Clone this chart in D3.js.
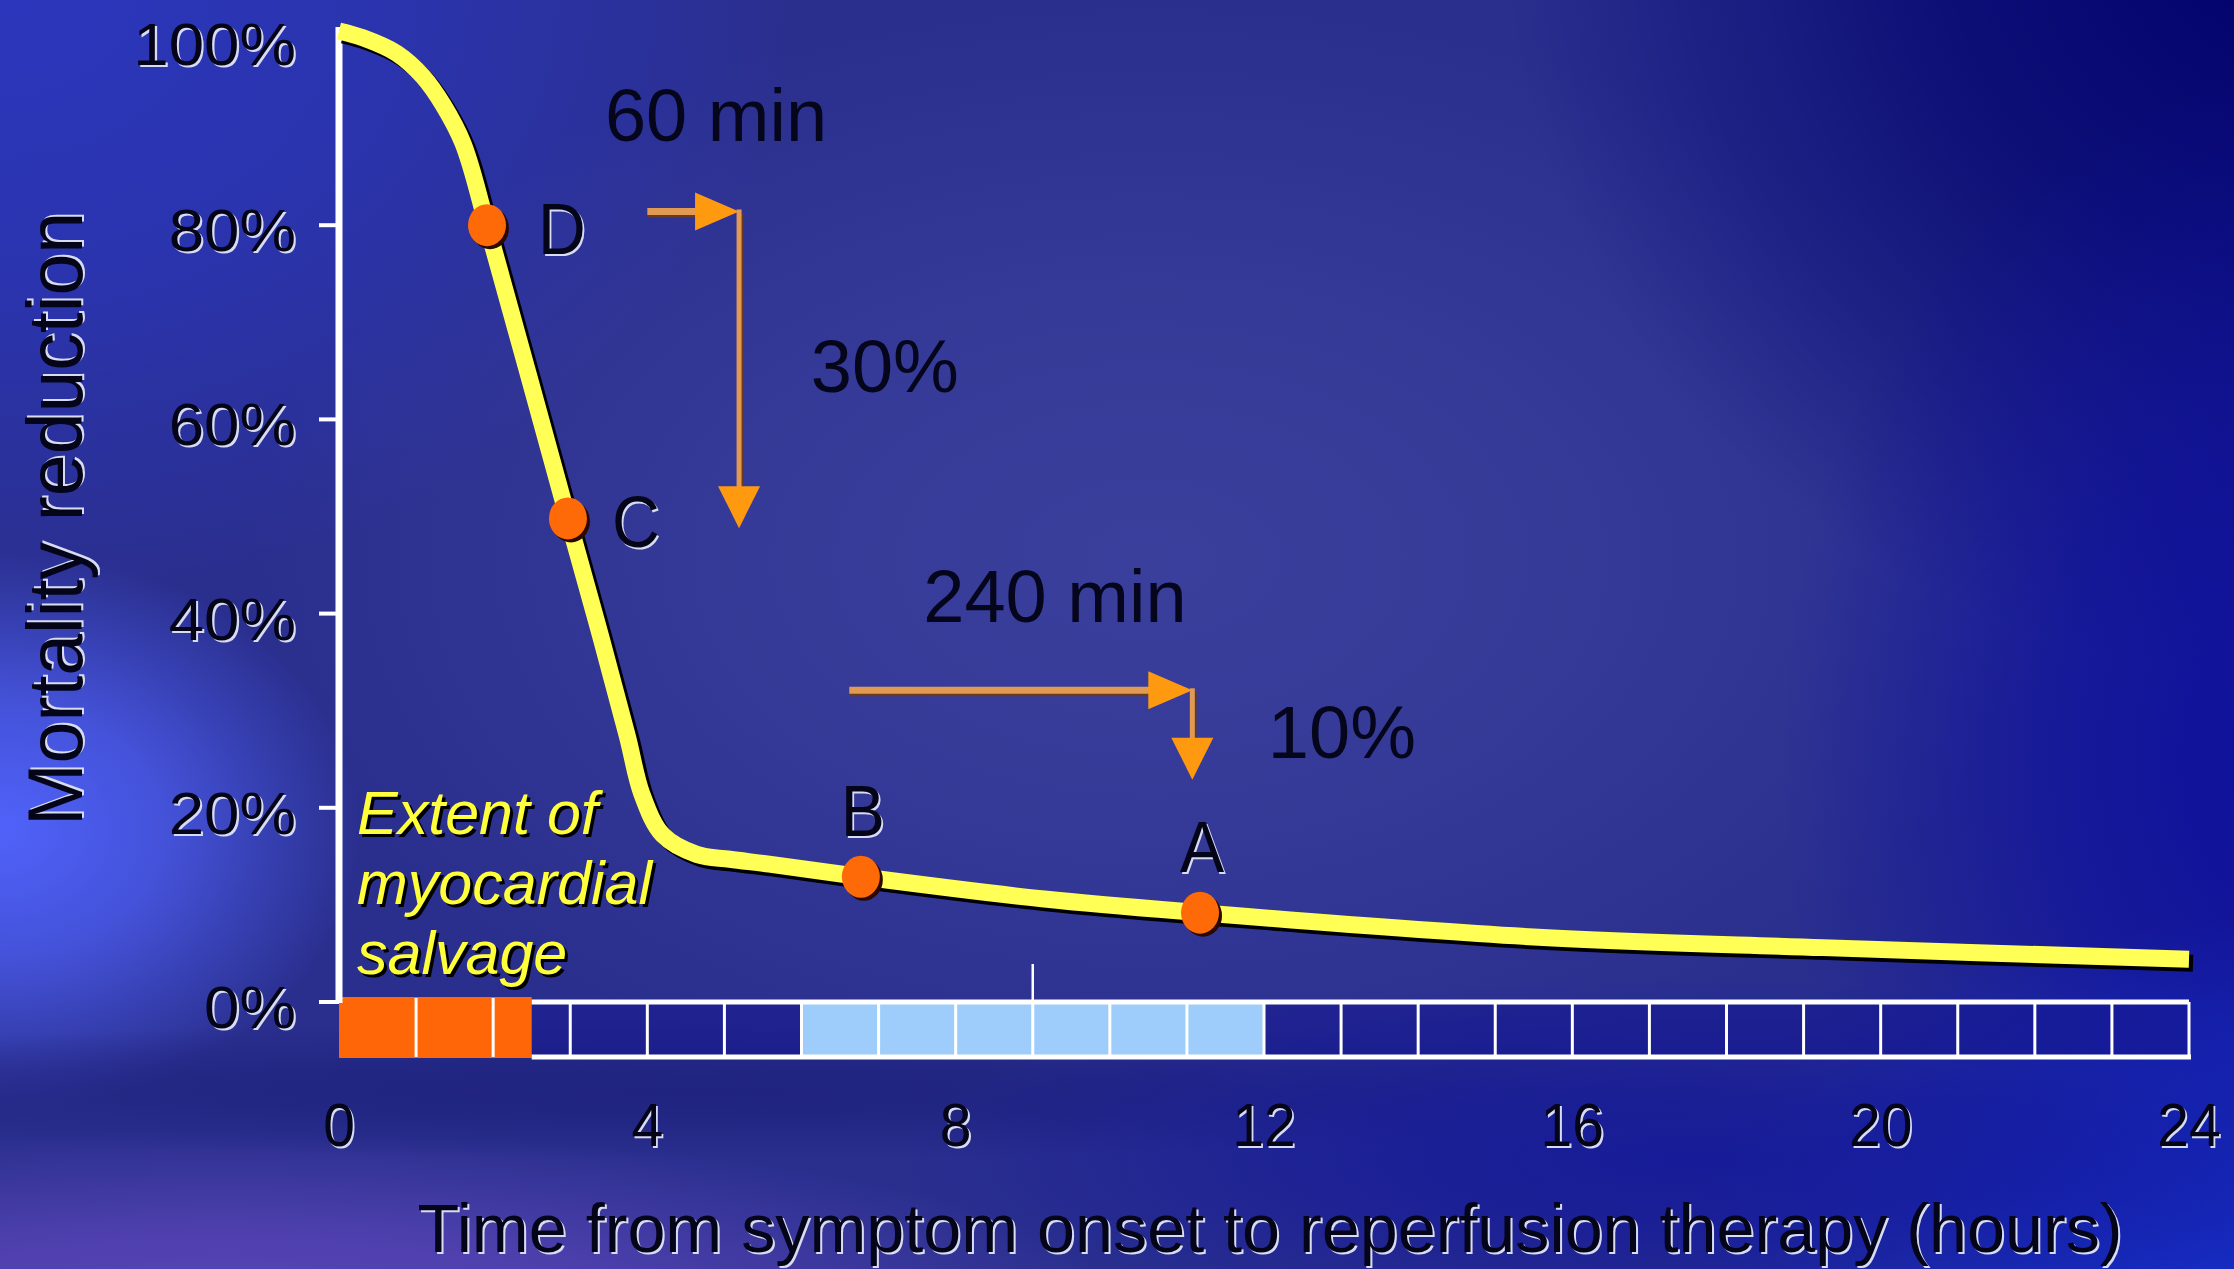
<!DOCTYPE html>
<html>
<head>
<meta charset="utf-8">
<script src="https://cdn.jsdelivr.net/npm/d3@7"></script>
<style>
  html, body { margin: 0; padding: 0; background: #2b3190; overflow: hidden; }
  svg { display: block; }
  text { font-family: "Liberation Sans", Arial, sans-serif; }
</style>
</head>
<body>
<svg id="chart" width="2234" height="1269"></svg>
<script>
// ---------------- data ----------------
const curveHours = [0, 0.31, 0.75, 1.09, 1.35, 1.61, 1.92, 2.97, 3.41, 3.74, 3.93, 4.2, 4.64, 5.07, 5.58, 6.77, 9.15, 11.17, 15.5, 19.25, 24];
const curveReduction = [100, 99.3, 97.7, 95.3, 92.4, 88.4, 80, 49.8, 37.2, 27.4, 21.4, 17.2, 15.2, 14.7, 14.2, 12.9, 10.6, 9.2, 6.7, 5.6, 4.4];

const pointLabels = ["D", "C", "B", "A"];
const pointHours = [1.92, 2.97, 6.77, 11.17];
const pointReduction = [80, 49.8, 12.9, 9.2];

const yTickValues = [0, 20, 40, 60, 80, 100];
const yTickLabels = ["0%", "20%", "40%", "60%", "80%", "100%"];
const xTickValues = [0, 4, 8, 12, 16, 20, 24];
const xTickLabels = ["0", "4", "8", "12", "16", "20", "24"];

const cellEdges = [0, 1, 2, 3, 4, 5, 6, 7, 8, 9, 10, 11, 12, 13, 14, 15, 16, 17, 18, 19, 20, 21, 22, 23, 24];
const salvageFrom = [0, 6];
const salvageTo = [2.5, 12];
const salvageKind = ["high", "low"];
const extraTickHour = [9];

// elbow arrows: horizontal delay, then vertical loss
const arrowStartHour = [4.0, 6.62];
const arrowEndHour = [5.19, 11.07];
const arrowFromValue = [81.4, 32.1];
const arrowToValue = [48.8, 22.9];
const delayLabels = ["60 min", "240 min"];
const delayLabelHour = [3.45, 7.58];
const delayLabelValue = [88.7, 39.1];
const lossLabels = ["30%", "10%"];
const lossLabelHour = [6.12, 12.05];
const lossLabelValue = [62.8, 25.1];

const salvageText = ["Extent of", "myocardial", "salvage"];
const xTitle = "Time from symptom onset to reperfusion therapy (hours)";
const yTitle = "Mortality reduction";

// ---------------- drawing ----------------
const W = 2234, H = 1269;
const svg = d3.select("#chart");
const defs = svg.append("defs");

const x = d3.scaleLinear().domain([0, 24]).range([339, 2189]);
const y = d3.scaleLinear().domain([0, 100]).range([1002, 31]);

// background: base + soft radial glows
const bg = svg.append("g");
bg.append("rect").attr("width", W).attr("height", H).attr("fill", "#2a2f8e");
const blobs = [
  {cx: 0, cy: 0, rx: 800, ry: 600, c: "#2b37c2", o: 0.9},
  {cx: 1150, cy: 560, rx: 900, ry: 560, c: "#3c419e", o: 0.9},
  {cx: 2300, cy: -80, rx: 800, ry: 760, c: "#00006c", o: 1},
  {cx: 2300, cy: 760, rx: 520, ry: 700, c: "#0a0c9e", o: 0.9},
  {cx: 2260, cy: 1300, rx: 600, ry: 380, c: "#1430d0", o: 0.9},
  {cx: 0, cy: 830, rx: 360, ry: 280, c: "#5062fa", o: 1},
  {cx: 220, cy: 1300, rx: 900, ry: 170, c: "#5a46b8", o: 1},
  {cx: 700, cy: 1090, rx: 1100, ry: 70, c: "#1d207c", o: 0.8},
  {cx: 1700, cy: 1160, rx: 800, ry: 180, c: "#12169a", o: 0.8}
];
blobs.forEach((b, i) => {
  const g = defs.append("radialGradient").attr("id", "rg" + i);
  g.append("stop").attr("offset", 0).attr("stop-color", b.c).attr("stop-opacity", b.o);
  g.append("stop").attr("offset", 0.45).attr("stop-color", b.c).attr("stop-opacity", b.o * 0.7);
  g.append("stop").attr("offset", 1).attr("stop-color", b.c).attr("stop-opacity", 0);
});
bg.selectAll("ellipse").data(blobs).join("ellipse")
  .attr("cx", d => d.cx).attr("cy", d => d.cy)
  .attr("rx", d => d.rx).attr("ry", d => d.ry)
  .attr("fill", (d, i) => `url(#rg${i})`);

// embossed text helper
function label(g, px, py, s, o) {
  const sx = o.sx || 1;
  const grp = g.append("g").attr("transform", `translate(${px},${py}) scale(${sx},1)`);
  if (o.shadow) {
    grp.append("text").attr("x", o.sdx || 2).attr("y", o.sdy || 2)
      .attr("text-anchor", o.anchor || "start")
      .attr("font-size", o.size).attr("font-style", o.italic ? "italic" : null)
      .attr("fill", o.shadow).text(s);
  }
  grp.append("text").attr("x", 0).attr("y", 0)
    .attr("text-anchor", o.anchor || "start")
    .attr("font-size", o.size).attr("font-style", o.italic ? "italic" : null)
    .attr("fill", o.fill).text(s);
  return grp;
}

// strip of hourly cells
const strip = svg.append("g");
const stripTop = y(0), stripBottom = y(0) + 55;
const cells = cellEdges.slice(0, -1);
strip.selectAll("rect.cell").data(cells).join("rect").attr("class", "cell")
  .attr("x", d => x(d)).attr("y", stripTop)
  .attr("width", d => x(d + 1) - x(d)).attr("height", stripBottom - stripTop)
  .attr("fill", "#151890").attr("fill-opacity", 0.55);
salvageFrom.forEach((f, i) => {
  strip.append("rect")
    .attr("x", x(f)).attr("width", x(salvageTo[i]) - x(f))
    .attr("y", salvageKind[i] === "high" ? stripTop - 5 : stripTop)
    .attr("height", salvageKind[i] === "high" ? stripBottom - stripTop + 6 : stripBottom - stripTop)
    .attr("fill", salvageKind[i] === "high" ? "#ff6608" : "#9fcdfb");
});
strip.append("line").attr("x1", x(salvageTo[0])).attr("x2", x(24))
  .attr("y1", stripTop).attr("y2", stripTop).attr("stroke", "#fff").attr("stroke-width", 5);
strip.append("line").attr("x1", x(salvageTo[0])).attr("x2", x(24) + 2)
  .attr("y1", stripBottom).attr("y2", stripBottom).attr("stroke", "#fff").attr("stroke-width", 5);
strip.selectAll("line.div").data(cellEdges.slice(1)).join("line").attr("class", "div")
  .attr("x1", d => x(d)).attr("x2", d => x(d))
  .attr("y1", d => d <= 2.5 ? stripTop - 4 : stripTop)
  .attr("y2", stripBottom)
  .attr("stroke", "#fff").attr("stroke-width", 3);
strip.selectAll("line.extra").data(extraTickHour).join("line").attr("class", "extra")
  .attr("x1", d => x(d)).attr("x2", d => x(d))
  .attr("y1", stripTop - 38).attr("y2", stripTop)
  .attr("stroke", "#fff").attr("stroke-width", 2.5);

// y axis
const ax = svg.append("g");
ax.append("line").attr("x1", x(0)).attr("x2", x(0))
  .attr("y1", y(100) - 4).attr("y2", stripTop + 1)
  .attr("stroke", "#fff").attr("stroke-width", 7);
ax.selectAll("line.tick").data(yTickValues.filter(v => v < 100)).join("line").attr("class", "tick")
  .attr("x1", x(0) - 20).attr("x2", x(0))
  .attr("y1", d => y(d)).attr("y2", d => y(d))
  .attr("stroke", "#fff").attr("stroke-width", 4);
yTickValues.forEach((v, i) => {
  label(ax, 296, y(v) + (v === 100 ? 34 : 26), yTickLabels[i],
    {size: 60, sx: 1.06, anchor: "end", fill: "#05051a", shadow: "#d8dcf2"});
});
xTickValues.forEach((v, i) => {
  label(ax, x(v), 1146, xTickLabels[i],
    {size: 62, sx: 0.92, anchor: "middle", fill: "#05051a", shadow: "#d8dcf2"});
});
// axis titles
const xt = label(ax, 1270, 1252, xTitle, {size: 68, anchor: "middle", fill: "#05051a", shadow: "#d8dcf2"});
xt.selectAll("text").attr("textLength", 1705).attr("lengthAdjust", "spacingAndGlyphs");
const ytg = ax.append("g").attr("transform", "translate(82,519) rotate(-90)");
ytg.append("text").attr("x", 2).attr("y", 2).attr("text-anchor", "middle").attr("font-size", 78)
  .attr("fill", "#d8dcf2").attr("textLength", 614).attr("lengthAdjust", "spacingAndGlyphs").text(yTitle);
ytg.append("text").attr("x", 0).attr("y", 0).attr("text-anchor", "middle").attr("font-size", 78)
  .attr("fill", "#05051a").attr("textLength", 614).attr("lengthAdjust", "spacingAndGlyphs").text(yTitle);

// salvage text
salvageText.forEach((s, i) => {
  label(svg, 357, 834 + i * 70, s, {size: 61, italic: true, fill: "#ffff3a", shadow: "#000", sdx: 3, sdy: 3});
});

// curve
const curveData = curveHours.map((h, i) => [h, curveReduction[i]]);
const line = d3.line().x(d => x(d[0])).y(d => y(d[1])).curve(d3.curveCatmullRom.alpha(0.5));
svg.append("path").attr("d", line(curveData)).attr("fill", "none")
  .attr("stroke", "#000").attr("stroke-width", 17).attr("transform", "translate(4,4)");
svg.append("path").attr("d", line(curveData)).attr("fill", "none")
  .attr("stroke", "#ffff55").attr("stroke-width", 17);

// points
const pts = svg.append("g");
pointHours.forEach((h, i) => {
  pts.append("ellipse").attr("cx", x(h) + 3).attr("cy", y(pointReduction[i]) + 3)
    .attr("rx", 19).attr("ry", 21).attr("fill", "#2a0a00");
  pts.append("ellipse").attr("cx", x(h)).attr("cy", y(pointReduction[i]))
    .attr("rx", 19).attr("ry", 21).attr("fill", "#ff6a08");
  const above = pointReduction[i] < 20;
  label(pts, above ? x(h) + 2 : x(h) + (i === 0 ? 51 : 44),
    above ? y(pointReduction[i]) - 41 : y(pointReduction[i]) + 29,
    pointLabels[i], {size: 72, sx: 0.92, anchor: above ? "middle" : "start", fill: "#05051a", shadow: "#d8dcf2"});
});

// arrows
const arr = svg.append("g");
const lineCol = "#e19a52", headCol = "#ff9a10";
arrowStartHour.forEach((h, i) => {
  const x0 = x(h), x1 = x(arrowEndHour[i]);
  const y0 = y(arrowFromValue[i]), y1 = y(arrowToValue[i]);
  arr.append("line").attr("x1", x0).attr("x2", x1 - 40).attr("y1", y0 + 4).attr("y2", y0 + 4)
    .attr("stroke", "#6a3a20").attr("stroke-width", 4);
  arr.append("line").attr("x1", x0).attr("x2", x1 - 38).attr("y1", y0).attr("y2", y0)
    .attr("stroke", lineCol).attr("stroke-width", 7);
  arr.append("path").attr("d", `M${x1 - 44},${y0 - 19} L${x1},${y0} L${x1 - 44},${y0 + 19} Z`)
    .attr("fill", headCol);
  arr.append("line").attr("x1", x1 + 3).attr("x2", x1 + 3).attr("y1", y0 + 2).attr("y2", y1 - 40)
    .attr("stroke", "#6a3a20").attr("stroke-width", 2.5);
  arr.append("line").attr("x1", x1).attr("x2", x1).attr("y1", y0 - 2).attr("y2", y1 - 38)
    .attr("stroke", lineCol).attr("stroke-width", 5);
  arr.append("path").attr("d", `M${x1 - 21},${y1 - 42} L${x1},${y1} L${x1 + 21},${y1 - 42} Z`)
    .attr("fill", headCol);
  label(arr, x(delayLabelHour[i]), y(delayLabelValue[i]), delayLabels[i], {size: 74, fill: "#05061c"});
  label(arr, x(lossLabelHour[i]), y(lossLabelValue[i]), lossLabels[i], {size: 74, fill: "#05061c"});
});
</script>
</body>
</html>
